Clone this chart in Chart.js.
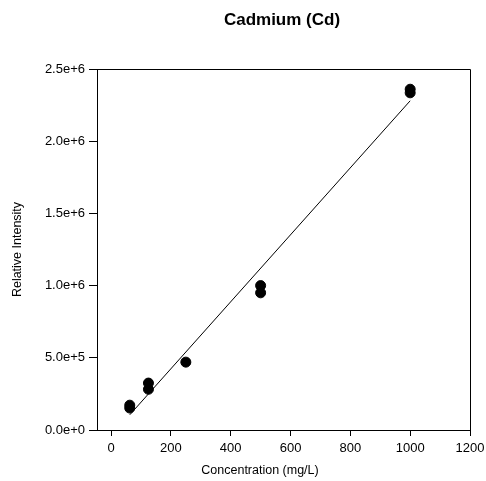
<!DOCTYPE html>
<html>
<head>
<meta charset="utf-8">
<script src="https://cdn.jsdelivr.net/npm/chart.js@4.4.0/dist/chart.umd.min.js"></script>
<style>
    html, body { margin: 0; padding: 0; background: #fff; }
    #wrap { width: 486px; height: 481px; }
</style>
</head>
<body>
<div id="wrap"><canvas id="cdChart"></canvas></div>
<script>
// 標準品濃度 (mg/L) 與相對強度
const concX = [62.5, 62.5, 125, 125, 250, 500, 500, 1000, 1000];
const intensityY = [1.72e5, 1.52e5, 3.25e5, 2.82e5, 4.7e5, 1.0e6, 0.95e6, 2.36e6, 2.335e6];

// 校正直線兩端點
const fitX = [62.5, 1000];
const fitY = [1.05e5, 2.28e6];

// 刻度
const xTicks = [0, 200, 400, 600, 800, 1000, 1200];
const yTicks = [0, 5e5, 1e6, 1.5e6, 2e6, 2.5e6];
const yTickLabels = ['0.0e+0', '5.0e+5', '1.0e+6', '1.5e+6', '2.0e+6', '2.5e+6'];

const FONT = "'Liberation Sans', Arial, sans-serif";

// 外框、圖標題、軸標題
const framePlugin = {
    id: 'frame',
    afterDraw(chart) {
        const { ctx, chartArea: a } = chart;
        ctx.save();
        ctx.strokeStyle = '#000';
        ctx.lineWidth = 1;
        ctx.beginPath();
        ctx.moveTo(a.left, a.top + 0.5);
        ctx.lineTo(a.right + 0.5, a.top + 0.5);
        ctx.lineTo(a.right + 0.5, a.bottom);
        ctx.stroke();

        ctx.fillStyle = '#000';
        ctx.textAlign = 'center';
        ctx.textBaseline = 'middle';
        ctx.font = 'bold 17px ' + FONT;
        ctx.fillText('Cadmium (Cd)', 282, 20);

        ctx.font = '12.5px ' + FONT;
        ctx.fillText('Concentration (mg/L)', 260, 471);

        ctx.translate(18, (a.top + a.bottom) / 2);
        ctx.rotate(-Math.PI / 2);
        ctx.fillText('Relative Intensity', 0, 0);
        ctx.restore();
    }
};

const ctx = document.getElementById('cdChart');
new Chart(ctx, {
    type: 'scatter',
    data: {
        datasets: [
            {
                label: 'Cd',
                data: concX.map((x, i) => ({ x: x, y: intensityY[i] })),
                backgroundColor: '#000',
                borderColor: '#000',
                pointRadius: 5,
                pointHoverRadius: 5,
                order: 2
            },
            {
                label: 'fit',
                type: 'line',
                data: fitX.map((x, i) => ({ x: x, y: fitY[i] })),
                borderColor: '#000',
                borderWidth: 1,
                pointRadius: 0,
                fill: false,
                order: 1
            }
        ]
    },
    options: {
        responsive: true,
        maintainAspectRatio: false,
        animation: false,
        layout: {
            padding: { left: 0, right: 16, top: 69, bottom: 0 }
        },
        plugins: {
            legend: { display: false },
            tooltip: { enabled: false },
            title: { display: false }
        },
        scales: {
            x: {
                type: 'linear',
                min: -47,
                max: 1200,
                afterBuildTicks: (scale) => {
                    scale.ticks = xTicks.map(v => ({ value: v }));
                },
                afterFit: (scale) => {
                    scale.height = 51;
                    scale.paddingLeft = 0;
                    scale.paddingRight = 0;
                },
                border: { color: '#000', width: 1 },
                grid: {
                    drawOnChartArea: false,
                    color: '#000',
                    tickLength: 6,
                    tickWidth: 1
                },
                ticks: {
                    color: '#000',
                    padding: 5,
                    maxRotation: 0,
                    autoSkip: false,
                    font: { size: 13, family: FONT },
                    callback: (value) => String(value)
                }
            },
            y: {
                type: 'linear',
                min: 0,
                max: 2.5e6,
                afterBuildTicks: (scale) => {
                    scale.ticks = yTicks.map(v => ({ value: v }));
                },
                afterFit: (scale) => {
                    scale.width = 97;
                    scale.paddingTop = 0;
                    scale.paddingBottom = 0;
                },
                border: { color: '#000', width: 1 },
                grid: {
                    drawOnChartArea: false,
                    color: '#000',
                    tickLength: 8,
                    tickWidth: 1
                },
                ticks: {
                    color: '#000',
                    padding: 4,
                    autoSkip: false,
                    font: { size: 13, family: FONT },
                    callback: (value) => yTickLabels[yTicks.indexOf(value)]
                }
            }
        }
    },
    plugins: [framePlugin]
});
</script>
</body>
</html>
